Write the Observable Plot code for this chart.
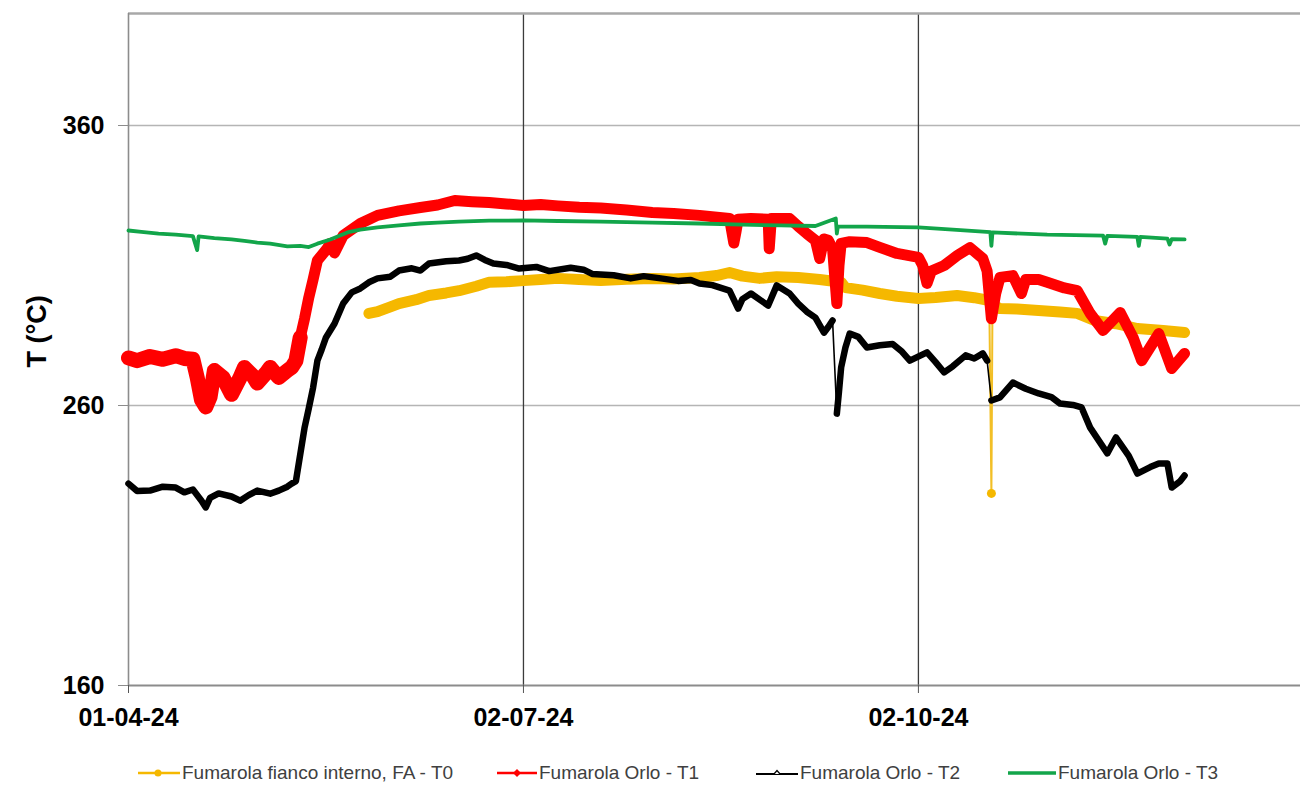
<!DOCTYPE html>
<html><head><meta charset="utf-8">
<script src="https://cdn.jsdelivr.net/npm/d3@7"></script>
<script src="https://cdn.jsdelivr.net/npm/@observablehq/plot@0.6"></script>
<style>
body{margin:0;background:#fff;}
#wrap{position:relative;width:1300px;height:785px;overflow:hidden;font-family:'Liberation Sans',Arial,sans-serif;background:#fff;}
#legend{position:absolute;left:0;top:760px;width:1300px;height:26px;}
.item{position:absolute;top:0;height:26px;display:flex;align-items:center;font-size:19px;color:#404040;white-space:nowrap;}
.item svg{margin-right:2px;}
</style></head><body><div id="wrap"><div id="chart"></div><div id="legend"></div></div>
<script>
// ---- data ----
const seriesNames = ["Fumarola fianco interno, FA - T0", "Fumarola Orlo - T1", "Fumarola Orlo - T2", "Fumarola Orlo - T3"];
const xTickDates = ["2024-04-01", "2024-07-02", "2024-10-02"];
const yTicks = [160, 260, 360];
const xDomain = ["2024-04-01", "2024-12-30"];
const yDomain = [160, 400];

const t0 = [
  ["2024-05-27",292.9],["2024-05-29",293.5],["2024-06-01",295.2],["2024-06-03",296.4],["2024-06-07",297.8],["2024-06-10",299.3],
  ["2024-06-14",300.2],["2024-06-17",301.0],["2024-06-21",302.6],["2024-06-24",304.0],["2024-06-28",304.2],["2024-07-02",304.6],
  ["2024-07-06",305.0],["2024-07-10",305.4],["2024-07-15",305.0],["2024-07-20",304.6],["2024-07-26",305.1],["2024-08-01",305.4],
  ["2024-08-06",305.2],["2024-08-12",305.7],["2024-08-16",306.4],["2024-08-19",307.5],["2024-08-22",306.2],["2024-08-26",305.4],
  ["2024-08-30",306.0],["2024-09-04",305.7],["2024-09-09",305.0],["2024-09-14",304.0],["2024-09-15",302.1],["2024-09-19",301.2],
  ["2024-09-23",300.0],["2024-09-27",299.0],["2024-10-02",298.2],["2024-10-06",298.6],["2024-10-11",299.3],["2024-10-15",298.5],
  ["2024-10-18T12:00",297.5],["2024-10-19T00:00",228.6],["2024-10-19T06:00",296.0],["2024-10-21",294.6],["2024-10-25",294.5],
  ["2024-10-30",293.9],["2024-11-04",293.4],["2024-11-08",292.9],["2024-11-12",290.4],["2024-11-17",289.2],["2024-11-22",287.5],
  ["2024-11-28",286.8],["2024-12-03",286.1]
];
const t0SpikeDate = "2024-10-19T00:00";

const t1 = [
  ["2024-04-01",277.0],["2024-04-03",276.0],["2024-04-06",277.5],["2024-04-09",276.5],["2024-04-12",277.8],["2024-04-14",276.8],
  ["2024-04-16",276.5],["2024-04-17",270.0],["2024-04-18",262.0],["2024-04-19",259.5],["2024-04-20",263.0],["2024-04-21",272.5],
  ["2024-04-23",270.0],["2024-04-25",264.0],["2024-04-27",270.0],["2024-04-28",273.6],["2024-04-30",270.5],["2024-05-01",268.0],
  ["2024-05-03",271.5],["2024-05-04",273.6],["2024-05-06",270.0],["2024-05-08",272.5],["2024-05-09",273.6],["2024-05-10",276.0],
  ["2024-05-11",284.3],["2024-05-12",291.0],["2024-05-13",298.6],["2024-05-14",305.0],["2024-05-15",311.8],["2024-05-17",315.5],
  ["2024-05-18",317.9],["2024-05-19",314.5],["2024-05-21",320.7],["2024-05-25",325.0],["2024-05-29",327.9],["2024-06-03",329.5],
  ["2024-06-08",330.7],["2024-06-12",331.6],["2024-06-16",333.2],["2024-06-20",332.8],["2024-06-24",332.5],["2024-06-28",332.0],
  ["2024-07-02",331.4],["2024-07-06",331.8],["2024-07-10",331.3],["2024-07-15",330.8],["2024-07-20",330.5],["2024-07-26",329.8],
  ["2024-08-01",328.9],["2024-08-06",328.6],["2024-08-12",327.9],["2024-08-19",326.8],
  ["2024-08-20T00:00",318.0],["2024-08-20T12:00",322.0],["2024-08-21",326.5],["2024-08-24",326.8],["2024-08-28T00:00",326.5],
  ["2024-08-28T06:00",316.0],["2024-08-28T18:00",326.8],["2024-09-02",326.8],["2024-09-04",324.0],["2024-09-06",321.4],
  ["2024-09-08",319.0],["2024-09-09",312.5],["2024-09-10",319.5],["2024-09-11",319.0],["2024-09-12",316.0],["2024-09-13T00:00",296.4],
  ["2024-09-13T12:00",310.0],["2024-09-14",317.9],["2024-09-16",318.5],["2024-09-20",318.2],["2024-09-23",316.5],["2024-09-27",314.3],
  ["2024-10-02",312.9],["2024-10-03",310.0],["2024-10-04",303.6],["2024-10-05",308.0],["2024-10-08",310.0],["2024-10-11",313.5],
  ["2024-10-14",316.4],["2024-10-17",312.5],["2024-10-18",308.0],["2024-10-19",291.0],["2024-10-20",300.0],["2024-10-21",305.7],
  ["2024-10-24",306.4],["2024-10-26",300.0],["2024-10-27",305.0],["2024-10-30",305.0],["2024-11-01",304.0],["2024-11-05",302.0],
  ["2024-11-08",301.0],["2024-11-11",292.9],["2024-11-14",286.8],["2024-11-18",293.2],["2024-11-21",284.3],["2024-11-23",276.0],
  ["2024-11-27",285.7],["2024-11-30",273.2],["2024-12-01",275.0],["2024-12-03",278.6]
];
const t1NoisyUntil = "2024-05-11";

const t2 = [
  ["2024-04-01",232.1],["2024-04-03",229.5],["2024-04-06",229.6],["2024-04-09",231.0],["2024-04-12",230.7],["2024-04-14",229.0],
  ["2024-04-16",230.0],["2024-04-18",226.0],["2024-04-19",223.6],["2024-04-20",227.0],["2024-04-22",228.6],["2024-04-25",227.5],
  ["2024-04-27",226.0],["2024-04-29",228.0],["2024-05-01",229.6],["2024-05-04",228.5],["2024-05-06",229.6],["2024-05-08",231.0],
  ["2024-05-09",232.1],["2024-05-10",233.0],["2024-05-12",252.0],["2024-05-13",259.0],["2024-05-14",266.4],["2024-05-15",276.0],
  ["2024-05-16",280.0],["2024-05-17",284.3],["2024-05-19",289.3],["2024-05-21",296.4],["2024-05-23",300.4],["2024-05-25",301.8],
  ["2024-05-27",304.0],["2024-05-29",305.4],["2024-06-01",306.0],["2024-06-03",308.2],["2024-06-06",309.0],["2024-06-08",308.2],
  ["2024-06-10",310.7],["2024-06-14",311.5],["2024-06-17",311.8],["2024-06-19",312.4],["2024-06-21",313.6],["2024-06-23",312.0],
  ["2024-06-25",310.7],["2024-06-28",310.2],["2024-07-01",308.9],["2024-07-05",309.5],["2024-07-08",308.0],["2024-07-13",309.2],
  ["2024-07-16",308.5],["2024-07-18",307.0],["2024-07-23",306.5],["2024-07-27",305.4],["2024-07-30",306.2],["2024-08-03",305.4],
  ["2024-08-07",304.5],["2024-08-10",304.8],["2024-08-12",303.6],["2024-08-15",303.0],["2024-08-19",301.0],
  ["2024-08-21",294.6],["2024-08-22",298.0],["2024-08-24",300.0],["2024-08-28",295.7],["2024-08-30",302.9],["2024-09-02",300.0],
  ["2024-09-04",296.4],["2024-09-06",293.5],["2024-09-08",291.4],["2024-09-10",286.0],["2024-09-11",288.0],["2024-09-12",290.4],
  ["2024-09-13T00:00",257.1],["2024-09-13T12:00",265.0],["2024-09-14",273.6],["2024-09-15",280.7],["2024-09-16",285.7],
  ["2024-09-18",284.5],["2024-09-20",280.7],["2024-09-23",281.5],["2024-09-26",282.0],["2024-09-28",279.5],["2024-09-30",276.0],
  ["2024-10-04",279.0],["2024-10-06",275.5],["2024-10-08",271.8],["2024-10-10",274.0],["2024-10-13",277.9],["2024-10-15",276.8],
  ["2024-10-17",278.6],["2024-10-18",276.0],["2024-10-19",261.8],["2024-10-21",262.9],["2024-10-24",268.2],
  ["2024-10-27",266.0],["2024-10-30",264.3],["2024-11-02",263.0],["2024-11-04",260.7],["2024-11-07",260.2],["2024-11-09",259.3],
  ["2024-11-11",252.1],["2024-11-15",242.9],["2024-11-17",248.6],["2024-11-20",242.0],["2024-11-22",235.7],["2024-11-25",238.0],
  ["2024-11-27",239.3],["2024-11-29",239.3],["2024-11-30",230.7],["2024-12-02",233.0],["2024-12-03",235.0]
];
const t2Breaks = ["2024-09-13T00:00", "2024-10-19"];

const t3 = [
  ["2024-04-01",322.5],["2024-04-04",322.0],["2024-04-08",321.4],["2024-04-12",321.0],["2024-04-16",320.5],["2024-04-17T00:00",315.5],
  ["2024-04-17T08:00",320.4],["2024-04-21",319.8],["2024-04-25",319.3],["2024-04-28",318.8],["2024-05-01",318.2],["2024-05-04",317.8],
  ["2024-05-08",316.8],["2024-05-11",317.0],["2024-05-13",316.6],["2024-05-15",317.8],["2024-05-18",319.3],["2024-05-20",320.5],
  ["2024-05-22",321.8],["2024-05-25",322.8],["2024-05-29",323.6],["2024-06-03",324.3],["2024-06-08",325.0],["2024-06-12",325.3],
  ["2024-06-17",325.7],["2024-06-24",326.0],["2024-07-02",326.1],["2024-07-10",325.9],["2024-07-20",325.7],["2024-08-01",325.3],
  ["2024-08-12",325.0],["2024-08-22",324.6],["2024-08-31",324.3],["2024-09-08",324.1],["2024-09-12T18:00",326.8],["2024-09-13T00:00",321.4],
  ["2024-09-13T06:00",324.0],["2024-09-20",323.9],["2024-10-02",323.6],["2024-10-10",322.8],["2024-10-18T18:00",321.9],
  ["2024-10-19T00:00",317.0],["2024-10-19T06:00",321.8],["2024-11-01",321.0],["2024-11-14",320.7],["2024-11-14T12:00",317.8],
  ["2024-11-15",320.6],["2024-11-22",320.2],["2024-11-22T08:00",317.0],["2024-11-22T16:00",320.2],["2024-11-29",319.6],
  ["2024-11-29T12:00",317.5],["2024-11-30",319.4],["2024-12-03",319.3]
];

// ---- styling ----
const colors = ["#f5b800", "#ff0000", "#000000", "#12a54a"];
const FONT = "'Liberation Sans', Arial, Helvetica, sans-serif";

const parse = s => new Date(s.length === 10 ? s + "T00:00:00Z" : s + ":00Z");
const rows = arr => arr.map(([d, v]) => ({date: parse(d), value: v}));

const r0 = rows(t0), r1 = rows(t1), r2 = rows(t2), r3 = rows(t3);
const spikeT = parse(t0SpikeDate).getTime();
const r0band = r0.filter(d => d.date.getTime() !== spikeT);
const r0spike = r0.filter(d => d.date.getTime() === spikeT);
const r1noisy = r1.filter(d => d.date <= parse(t1NoisyUntil));
// thick T2 band: same points, with a gap (NaN) just before each sharp drop
const cuts = t2Breaks.map(s => parse(s).getTime());
const r2thick = [];
r2.forEach(d => {
  if (cuts.includes(d.date.getTime())) r2thick.push({date: new Date(d.date.getTime() - 3600000), value: NaN});
  r2thick.push(d);
});

const chart = Plot.plot({
  width: 1300, height: 745,
  marginLeft: 128, marginRight: 0, marginTop: 13, marginBottom: 60,
  style: {fontFamily: FONT, fontSize: "25px", fontWeight: "bold", color: "#000", background: "#fff", overflow: "visible"},
  x: {type: "utc", domain: xDomain.map(parse)},
  y: {domain: yDomain},
  marks: [
    Plot.ruleY(yTicks.slice(1), {stroke: "#b5b5b5", strokeWidth: 1.5}),
    Plot.ruleX(xTickDates.slice(1).map(parse), {stroke: "#3c3c3c", strokeWidth: 1.3}),
    Plot.ruleY([yDomain[1]], {stroke: "#a8a8a8", strokeWidth: 2.5}),
    Plot.ruleY([yDomain[0]], {stroke: "#8c8c8c", strokeWidth: 2}),
    Plot.ruleX([parse(xDomain[0])], {stroke: "#8c8c8c", strokeWidth: 1.6}),
    // T0
    Plot.line(r0, {x: "date", y: "value", stroke: "#f2bf26", strokeWidth: 2}),
    Plot.line(r0band, {x: "date", y: "value", stroke: colors[0], strokeWidth: 11}),
    Plot.dot(r0spike, {x: "date", y: "value", fill: colors[0], r: 4.5}),
    // T1
    Plot.line(r1, {x: "date", y: "value", stroke: colors[1], strokeWidth: 11}),
    Plot.line(r1noisy, {x: "date", y: "value", stroke: colors[1], strokeWidth: 15}),
    // T2
    Plot.line(r2, {x: "date", y: "value", stroke: colors[2], strokeWidth: 1.6}),
    Plot.line(r2thick, {x: "date", y: "value", stroke: colors[2], strokeWidth: 6.5, strokeLinejoin: "round", strokeLinecap: "round"}),
    // T3
    Plot.line(r3, {x: "date", y: "value", stroke: colors[3], strokeWidth: 3.8}),
    Plot.axisY({ticks: yTicks, tickSize: 10, tickPadding: 14, stroke: "#8c8c8c", label: null, fontSize: 25, fontWeight: "bold"}),
    Plot.axisX({ticks: xTickDates.map(parse), tickFormat: d3.utcFormat("%d-%m-%y"), tickSize: 8, tickPadding: 15, stroke: "#555", label: null, fontSize: 25, fontWeight: "bold"}),
    Plot.text(["T (°C)"], {text: d => d, frameAnchor: "left", rotate: -90, dx: -91, dy: 18, fontSize: 27, fontWeight: "bold", fill: "#000"})
  ]
});
document.getElementById("chart").appendChild(chart);

// ---- legend ----
const legendLeft = [138, 497, 756, 1008];
const swatch = i => {
  const c = colors[i];
  if (i === 0) return `<svg width="42" height="14"><line x1="0" y1="7" x2="42" y2="7" stroke="${c}" stroke-width="2.5"/><circle cx="20" cy="7" r="3.5" fill="${c}"/></svg>`;
  if (i === 1) return `<svg width="40" height="14"><line x1="0" y1="7" x2="40" y2="7" stroke="${c}" stroke-width="2.5"/><path d="M20 3 L24 7 L20 11 L16 7 Z" fill="${c}"/></svg>`;
  if (i === 2) return `<svg width="42" height="14"><line x1="0" y1="8" x2="42" y2="8" stroke="${c}" stroke-width="2"/><path d="M18 8 L21 4.5 L24 8" fill="#fff" stroke="${c}" stroke-width="1.2"/></svg>`;
  return `<svg width="48" height="14"><line x1="0" y1="7" x2="48" y2="7" stroke="${c}" stroke-width="3.5"/></svg>`;
};
const lg = document.getElementById("legend");
seriesNames.forEach((name, i) => {
  const div = document.createElement("div");
  div.className = "item";
  div.style.left = legendLeft[i] + "px";
  div.innerHTML = swatch(i) + `<span>${name}</span>`;
  lg.appendChild(div);
});
</script></body></html>
